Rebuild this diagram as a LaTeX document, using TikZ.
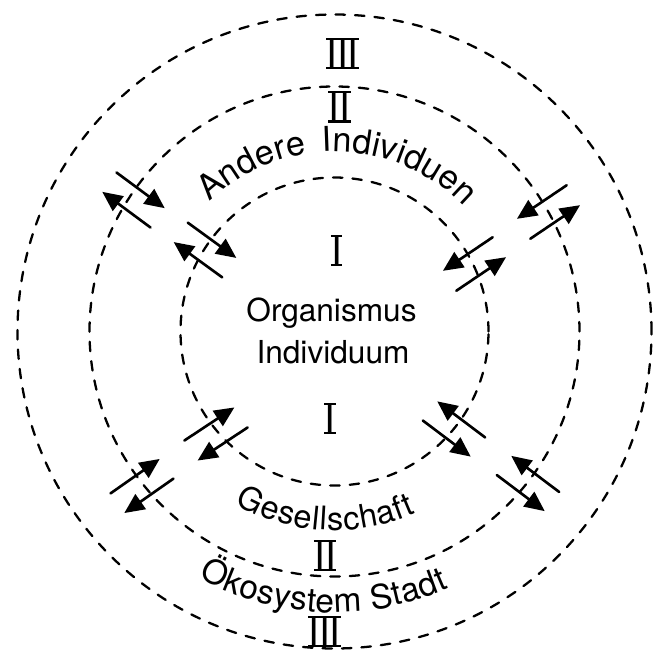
\documentclass[tikz,border=0pt]{standalone}
\usepackage{fontspec}
\setmainfont{TeX Gyre Heros}
\usetikzlibrary{arrows.meta,decorations.text}

\begin{document}
\begin{tikzpicture}[font=\fontsize{18}{22}\selectfont,
  >={Triangle[length=.4cm,width=.36cm]},line cap=round,line join=round,
  ring/.style={line width=1.3pt,dash pattern=on .19cm off .2cm},
  flow/.style={->,line width=1.5pt},
  numeral/.style={font=\fontsize{22}{22}\selectfont,inner sep=0pt,
    text height=.57cm,text depth=0pt,anchor=south},
  bar/.style={line width=1.3pt,line cap=butt}]
  \useasboundingbox (-6.69,-6.41) rectangle (6.53,6.63);

  \coordinate (C) at (0,0);
  \draw[ring] (C) circle[radius=3.08];
  \draw[ring] (C) circle[radius=4.90];
  \draw[ring] (C) circle[radius=6.34];

  % zone numbers, barred top and bottom
  \node[numeral] (zi) at (.04,1.33) {I};
  \node[numeral] (zib) at (-.09,-2.03) {I};
  \node[numeral] (zii) at (.10,4.20) {II};
  \node[numeral] (ziib) at (-.19,-4.77) {II};
  \node[numeral] (ziii) at (.16,5.27) {III};
  \node[numeral] (ziiib) at (-.20,-6.29) {III};
  \draw[bar] (zi.north west)--(zi.north east) (zi.south west)--(zi.south east);
  \draw[bar] (zib.north west)--(zib.north east) (zib.south west)--(zib.south east);
  \draw[bar] (zii.north west)--(zii.north east) (zii.south west)--(zii.south east);
  \draw[bar] (ziib.north west)--(ziib.north east) (ziib.south west)--(ziib.south east);
  \draw[bar] (ziii.north west)--(ziii.north east) (ziii.south west)--(ziii.south east);
  \draw[bar] (ziiib.north west)--(ziiib.north east) (ziiib.south west)--(ziiib.south east);

  \node[anchor=base] (org) at (-.06,.20) {Organismus};
  \node[anchor=base] (ind) at (-.03,-.64) {Individuum};

  % ring names along arcs
  \path[decorate,decoration={text along path,text align=fit to path stretching spaces,
    text={|\fontsize{19.5}{22}\selectfont|Andere Individuen}}]
    (134:3.6) arc[start angle=134,end angle=44,radius=3.6];
  \path[decorate,decoration={text along path,text align=fit to path,
    text={|\fontsize{18.5}{22}\selectfont|Gesellschaft}}]
    (240:3.98) arc[start angle=240,end angle=294,radius=3.98];
  \path[decorate,decoration={text along path,text align=fit to path,
    text={|\fontsize{19}{22}\selectfont|Ökosystem Stadt}}]
    (241:5.62) arc[start angle=241,end angle=294,radius=5.62];

  % exchange across the inner ring
  \begin{scope}[shift={(-2.59,1.63)},rotate=144]
    \draw[flow] (-.6,.24)--(.6,.24); \draw[flow] (.6,-.24)--(-.6,-.24);
  \end{scope}
  \begin{scope}[shift={(2.80,1.35)},rotate=34,yscale=-1]
    \draw[flow] (-.6,.24)--(.6,.24); \draw[flow] (.6,-.24)--(-.6,-.24);
  \end{scope}
  \begin{scope}[shift={(-2.37,-2.05)},rotate=213.5]
    \draw[flow] (-.6,.24)--(.6,.24); \draw[flow] (.6,-.24)--(-.6,-.24);
  \end{scope}
  \begin{scope}[shift={(2.39,-1.95)},rotate=323,yscale=-1]
    \draw[flow] (-.6,.24)--(.6,.24); \draw[flow] (.6,-.24)--(-.6,-.24);
  \end{scope}

  % exchange across the middle ring
  \begin{scope}[shift={(-4.02,2.63)},rotate=143.5]
    \draw[flow] (-.6,.24)--(.6,.24); \draw[flow] (.6,-.24)--(-.6,-.24);
  \end{scope}
  \begin{scope}[shift={(4.28,2.39)},rotate=34,yscale=-1]
    \draw[flow] (-.6,.24)--(.6,.24); \draw[flow] (.6,-.24)--(-.6,-.24);
  \end{scope}
  \begin{scope}[shift={(-3.85,-3.09)},rotate=215]
    \draw[flow] (-.6,.24)--(.6,.24); \draw[flow] (.6,-.24)--(-.6,-.24);
  \end{scope}
  \begin{scope}[shift={(3.87,-3.04)},rotate=323,yscale=-1]
    \draw[flow] (-.6,.24)--(.6,.24); \draw[flow] (.6,-.24)--(-.6,-.24);
  \end{scope}
\end{tikzpicture}
\end{document}
